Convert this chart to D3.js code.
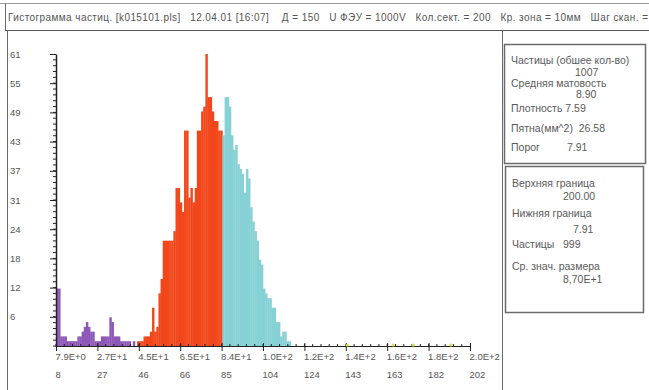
<!DOCTYPE html>
<html>
<head>
<meta charset="utf-8">
<script src="https://cdn.jsdelivr.net/npm/d3@7"></script>
<style>
  body { margin: 0; background: #fff; }
  svg { display: block; font-family: "Liberation Sans", Arial, sans-serif; }
</style>
</head>
<body>
<div id="chart"></div>
<script>
// Particle size histogram – three ranges coloured by threshold

// counts per channel, each series starts at its own channel
const lowStart = 8;
const lowCounts = [12, 12, 2, 2, 2, 1, 1, 1, 1, 1, 2, 2, 3, 4, 5, 4, 3, 3, 1, 1, 1, 2, 2, 2, 2, 6, 5, 2, 2, 2, 1, 1, 1, 1, 1, 0, 1, 0];
const midStart = 46;
const midCounts = [1, 1, 1, 2, 2, 2, 3, 8, 3, 4, 11, 14, 22, 22, 22, 22, 22, 24, 33, 33, 30, 28, 45, 45, 31, 33, 30, 33, 45, 45, 49, 50, 61, 52, 52, 49, 47, 47, 45, 45];
const highStart = 86;
const highCounts = [44, 52, 52, 50, 44, 41, 42, 38, 37, 36, 32, 37, 35, 29, 26, 24, 22, 18, 17, 12, 11, 10, 10, 8, 8, 5, 5, 2, 3, 3, 1, 1, 0];
const markerChannels = [144.5, 166, 175.5, 193];

const xTickChannels = [8, 27.4, 46.8, 66.2, 85.6, 105, 124.4, 143.8, 163.2, 182.6, 202];
const xSizeLabels = ['7.9E+0', '2.7E+1', '4.5E+1', '6.5E+1', '8.4E+1', '1.0E+2', '1.2E+2', '1.4E+2', '1.6E+2', '1.8E+2', '2.0E+2'];
const xChannelLabels = ['8', '27', '46', '66', '85', '104', '124', '143', '163', '182', '202'];
const yTickValues = [6.1, 12.2, 18.3, 24.4, 30.5, 36.6, 42.7, 48.8, 54.9, 61];
const yTickLabels = ['6', '12', '18', '24', '31', '37', '43', '49', '55', '61'];

const titleText = 'Гистограмма частиц. [k015101.pls]   12.04.01 [16:07]    Д = 150   U ФЭУ = 1000V   Кол.сект. = 200   Кр. зона = 10мм   Шаг скан. =';

// text, x, baseline
const statsLines = [
    ['Частицы (обшее кол-во)', 511, 64],
    ['1007', 575, 76],
    ['Средняя матовость', 511, 87],
    ['8.90', 576, 98],
    ['Плотность 7.59', 511, 112],
    ['Пятна(мм^2)  26.58', 511, 132],
    ['Порог', 511, 151],
    ['7.91', 567, 151]
];
const rangeLines = [
    ['Верхняя граница', 512, 187],
    ['200.00', 563, 200],
    ['Нижняя граница', 512, 217],
    ['7.91', 573, 233],
    ['Частицы', 512, 248],
    ['999', 563, 248],
    ['Ср. знач. размера', 512, 270],
    ['8,70E+1', 563, 283]
];

const W = 649, H = 390;
const svg = d3.select('#chart').append('svg').attr('width', W).attr('height', H);

// frame lines
const frame = svg.append('g').attr('stroke', '#6b6b6b').attr('fill', 'none');
frame.append('line').attr('x1', 0).attr('x2', W).attr('y1', 3.5).attr('y2', 3.5).attr('stroke', '#9a9a9a');
frame.append('line').attr('x1', 5.5).attr('x2', 5.5).attr('y1', 3.5).attr('y2', 30);
frame.append('line').attr('x1', 5).attr('x2', W).attr('y1', 30.5).attr('y2', 30.5).attr('stroke', '#555');
frame.append('line').attr('x1', 7.5).attr('x2', 7.5).attr('y1', 30).attr('y2', H);
frame.append('line').attr('x1', 502.5).attr('x2', 502.5).attr('y1', 30).attr('y2', H);
frame.append('rect').attr('x', 504.5).attr('y', 44.5).attr('width', 141).attr('height', 119).attr('stroke-width', 1.5);
frame.append('rect').attr('x', 505.5).attr('y', 166.5).attr('width', 138).attr('height', 146).attr('stroke-width', 1.5);

svg.append('text')
    .attr('x', 8)
    .attr('y', 21)
    .attr('font-size', '10px')
    .attr('fill', '#555')
    .attr('textLength', 640)
    .attr('lengthAdjust', 'spacing')
    .style('white-space', 'pre')
    .text(titleText);

svg.append('g').selectAll('text')
    .data(statsLines.concat(rangeLines))
    .join('text')
    .attr('x', d => d[1])
    .attr('y', d => d[2])
    .attr('font-size', '10.5px')
    .attr('fill', '#5a5a5a')
    .style('white-space', 'pre')
    .text(d => d[0]);

// scales
const x = d3.scaleLinear().domain([8, 202]).range([56, 470]);
const y = d3.scaleLinear().domain([0, 61]).range([346, 54]);

function drawSeries(start, counts, color) {
    svg.append('g').selectAll('rect')
        .data(counts)
        .join('rect')
        .attr('x', (d, i) => x(start + i))
        .attr('y', d => y(d))
        .attr('width', (d, i) => x(start + i + 1) - x(start + i) + 0.3)
        .attr('height', d => y(0) - y(d))
        .attr('fill', color);
}
drawSeries(lowStart, lowCounts, '#8d58b6');
drawSeries(midStart, midCounts, '#f2461b');
drawSeries(highStart, highCounts, '#86d1d5');

// x axis: major ticks + minor ticks
const minorStep = (xTickChannels[1] - xTickChannels[0]) / 5;
const minor = d3.range(8, 202, minorStep);
svg.append('g').selectAll('line')
    .data(minor)
    .join('line')
    .attr('x1', d => x(d)).attr('x2', d => x(d))
    .attr('y1', y(0) - 2).attr('y2', y(0) + 1)
    .attr('stroke', '#222');

const xAxis = svg.append('g')
    .attr('transform', `translate(0,${y(0)})`)
    .call(d3.axisBottom(x).tickValues(xTickChannels).tickSize(5).tickSizeOuter(0)
        .tickFormat((d, i) => xSizeLabels[i]));
xAxis.select('.domain').attr('stroke', '#222');
xAxis.selectAll('.tick line').attr('stroke', '#222').attr('y1', -3);
xAxis.selectAll('.tick text')
    .attr('text-anchor', 'start')
    .attr('x', -1)
    .attr('y', 7)
    .attr('font-size', '9.5px')
    .attr('font-family', '"Liberation Sans", Arial, sans-serif')
    .attr('fill', '#555');

const xAxis2 = svg.append('g')
    .attr('transform', `translate(0,${y(0) + 22})`)
    .call(d3.axisBottom(x).tickValues(xTickChannels).tickSize(0)
        .tickFormat((d, i) => xChannelLabels[i]));
xAxis2.select('.domain').remove();
xAxis2.selectAll('.tick text')
    .attr('text-anchor', 'start')
    .attr('x', -1)
    .attr('y', 3)
    .attr('font-size', '9.5px')
    .attr('font-family', '"Liberation Sans", Arial, sans-serif')
    .attr('fill', '#555');

// y axis
const yMinor = d3.range(0, 61, 61 / 50);
svg.append('g').selectAll('line')
    .data(yMinor)
    .join('line')
    .attr('x1', 53).attr('x2', 56)
    .attr('y1', d => y(d)).attr('y2', d => y(d))
    .attr('stroke', '#222');

const yAxis = svg.append('g')
    .attr('transform', 'translate(56,0)')
    .call(d3.axisLeft(y).tickValues(yTickValues).tickSize(6).tickSizeOuter(0)
        .tickFormat((d, i) => yTickLabels[i]));
yAxis.select('.domain').attr('stroke', '#222').attr('stroke-width', 1.5);
yAxis.selectAll('.tick line').attr('stroke', '#222');
yAxis.selectAll('.tick text')
    .attr('text-anchor', 'start')
    .attr('x', -46)
    .attr('font-size', '9.5px')
    .attr('font-family', '"Liberation Sans", Arial, sans-serif')
    .attr('fill', '#555');

// small yellow markers on the baseline
svg.append('g').selectAll('circle')
    .data(markerChannels)
    .join('circle')
    .attr('cx', d => x(d))
    .attr('cy', y(0) - 1)
    .attr('r', 1.6)
    .attr('fill', '#e6dc5a');
</script>
</body>
</html>
